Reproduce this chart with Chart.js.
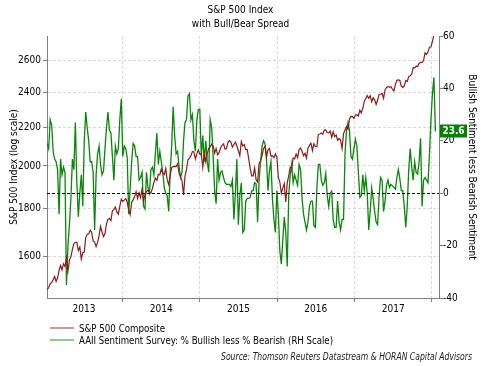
<!DOCTYPE html>
<html>
<head>
<meta charset="UTF-8">
<title>S&amp;P 500 Index with Bull/Bear Spread</title>
<script src="https://cdn.jsdelivr.net/npm/chart.js@4.4.0/dist/chart.umd.min.js"></script>
<style>
  body { margin: 0; background: #fff; }
  #grafica { display: block; }
</style>
</head>
<body>
<canvas id="grafica" width="481" height="366"></canvas>
<script>
// weekly survey dates, starting Thursday 10 Jan 2013
var firstWeek = Date.UTC(2013, 0, 10);

// S&P 500 Composite, weekly close
var spx = [
  1472, 1480, 1494, 1498, 1509, 1521, 1502, 1515, 1545, 1563,
  1546, 1569, 1559, 1593, 1541, 1585, 1597, 1627, 1650, 1655,
  1655, 1622, 1636, 1588, 1613, 1615, 1675, 1689, 1690, 1706,
  1697, 1661, 1656, 1638, 1655, 1683, 1722, 1698, 1679, 1692,
  1733, 1752, 1757, 1747, 1790, 1795, 1807, 1785, 1775, 1810,
  1842, 1832, 1838, 1845, 1828, 1794, 1773, 1829, 1839, 1854,
  1877, 1846, 1872, 1849, 1888, 1833, 1864, 1878, 1883, 1875,
  1870, 1892, 1920, 1940, 1930, 1959, 1957, 1985, 1965, 1958,
  1988, 1931, 1910, 1955, 1992, 1997, 1998, 1997, 2011, 1965,
  1946, 1928, 1862, 1950, 1982, 2031, 2039, 2052, 2073, 2071,
  2035, 2061, 2082, 2059, 2062, 1993, 2063, 2021, 2062, 2088,
  2097, 2111, 2101, 2065, 2089, 2056, 2067, 2091, 2105, 2113,
  2086, 2088, 2121, 2131, 2121, 2096, 2109, 2122, 2102, 2077,
  2052, 2125, 2102, 2109, 2083, 2084, 2036, 1988, 1952, 1952,
  1990, 1932, 1923, 2013, 2024, 2052, 2089, 2100, 2045, 2082,
  2089, 2050, 2052, 2041, 2061, 2044, 1944, 1922, 1869, 1893,
  1915, 1829, 1918, 1951, 1994, 1989, 2040, 2036, 2060, 2042,
  2083, 2091, 2075, 2051, 2064, 2040, 2090, 2105, 2116, 2077,
  2113, 2099, 2097, 2164, 2165, 2170, 2164, 2186, 2187, 2173,
  2171, 2181, 2147, 2177, 2151, 2160, 2132, 2141, 2133, 2088,
  2167, 2187, 2205, 2191, 2246, 2262, 2260, 2250, 2269, 2271,
  2263, 2297, 2281, 2307, 2347, 2364, 2381, 2365, 2381, 2345,
  2368, 2357, 2329, 2355, 2388, 2389, 2394, 2365, 2415, 2430,
  2434, 2432, 2434, 2419, 2409, 2448, 2473, 2475, 2472, 2438,
  2430, 2439, 2472, 2466, 2496, 2501, 2510, 2552, 2551, 2562,
  2560, 2579, 2585, 2585, 2597, 2648, 2637, 2652, 2684, 2687,
  2724, 2767, 2798
];

// AAII % bullish less % bearish
var bullBear = [
  19, 17, 28, 26, 16, 13, 12, 9, -8, 13,
  7, 10, 8, -35, -20, -12, -2, 13, 9, 27,
  4, -9, 0, 7, -5, 20, 31, 25, 20, 12,
  12, 8, -14, 7, 15, 18, 11, 7, 8.5, 17,
  25, 31, 24, 23, 14, 5, 18, 15, 17, 28,
  36, 14, 18, 17, 13.6, -8, 2, 12, 19, 18,
  14, 14, 5, 6, 8, -5, -6, 8, 2, 0,
  9, 10, 7, 15, 23, 11, 16, 12, 8, 2,
  0, -1, -7, 8, 18, 33, 22, 15, 16, 10,
  6, 8, 20, 27, 28, 37, 38, 28, 30, 20,
  16, 28, 32, 32, 14, 22, 12, 20, 12, 8,
  28, 25, 14, 1, -4, 13, 5, 8, 8.5, 6,
  4, 3.4, 3.4, 3.4, 2.5, 5, -10, 0, 13, -12,
  -1, 4, -15, -14, -3, -2, -2, -1.6, 0.9, 1,
  4, 3.5, -11, 5, 12, 18, 20, 19, 13, 1,
  8.5, 12, -2, -10, -15, 1, -8, -22, -27, -18,
  -9, -15, -28, -1, 7, 11, 4, 7, 5, 3,
  11, 9, -2, -8, -11, -14, -11, -5, -3, -3,
  -12.5, -13, 2, 11, 11, 5, 3, 4, 7.5, -1,
  -5, 0, 0.8, -10, -13, -13, -3, -11, -14, -10,
  -10, 15, 24, 27, 24, 14, 13, 17, 20.6, 18,
  8, -1.6, -1, 7, 1, 6, 0, -14, -7, 2,
  -2, -7, -11, -12, -1, 6, 5, -7, -3, 3,
  5, 2.2, 3.4, 2.8, 2.2, 1.5, 6, 9, 5.5, 1,
  1, -5, -13, -5, 9, 17, 10, 5, 12, 8,
  7.3, 12, 21, -5, 5, 6, 5, 4, 15, 28,
  38, 44.2, 23.6
];

var years = [2013, 2014, 2015, 2016, 2017];
var spxTicks = [1600, 1800, 2000, 2200, 2400, 2600];
var spreadTicks = [-40, -20, 0, 20, 40, 60];

var FONT = "'DejaVu Sans Condensed', 'Liberation Sans', sans-serif";
var RED = '#8c1c1c';
var GREEN = '#0a860a';
var DAY = 86400000;

function weekX(i) { return firstWeek + i * 7 * DAY; }

var spxPts = spx.map(function (v, i) { return { x: weekX(i), y: v }; });
var spreadPts = bullBear.map(function (v, i) { return { x: weekX(i), y: v }; });

// x ticks: year boundaries (grid + tick mark) and mid years (label)
function yearTicks() {
  var t = [];
  years.forEach(function (y) {
    var a = Date.UTC(y, 0, 1), b = Date.UTC(y + 1, 0, 1);
    t.push({ value: (a + b) / 2, year: y });
    t.push({ value: b, boundary: true });
  });
  return t;
}

var extras = {
  id: 'extras',
  afterDatasetsDraw: function (chart) {
    var ctx = chart.ctx, a = chart.chartArea;
    var y0 = chart.scales.y2.getPixelForValue(0);
    ctx.save();
    ctx.strokeStyle = '#000';
    ctx.lineWidth = 1;
    ctx.setLineDash([3, 2]);
    ctx.beginPath();
    ctx.moveTo(a.left, Math.round(y0) + 0.5);
    ctx.lineTo(a.right, Math.round(y0) + 0.5);
    ctx.stroke();
    ctx.restore();
  },
  afterDraw: function (chart) {
    var ctx = chart.ctx, a = chart.chartArea;
    ctx.save();

    // last value flag on the right scale
    var last = bullBear[bullBear.length - 1];
    var yl = chart.scales.y2.getPixelForValue(last);
    ctx.fillStyle = '#088008';
    ctx.fillRect(a.right + 1, Math.round(yl) - 6.5, 27, 13);
    ctx.fillStyle = '#fff';
    ctx.font = 'bold 10px ' + FONT;
    ctx.textAlign = 'center';
    ctx.textBaseline = 'middle';
    ctx.fillText(last.toFixed(1), a.right + 14.5, Math.round(yl), 25);

    // legend
    var items = [
      { text: 'S&P 500 Composite', color: RED, y: 328, w: 86 },
      { text: 'AAII Sentiment Survey: % Bullish less % Bearish (RH Scale)', color: GREEN, y: 340, w: 254 }
    ];
    ctx.font = '10px ' + FONT;
    ctx.textAlign = 'left';
    items.forEach(function (it) {
      ctx.strokeStyle = it.color;
      ctx.globalAlpha = 0.6;
      ctx.lineWidth = 1.5;
      ctx.beginPath();
      ctx.moveTo(50, it.y);
      ctx.lineTo(74, it.y);
      ctx.stroke();
      ctx.globalAlpha = 1;
      ctx.fillStyle = '#000';
      ctx.fillText(it.text, 79, it.y + 1, it.w);
    });

    // source note
    ctx.font = 'italic 10px ' + FONT;
    ctx.textAlign = 'right';
    ctx.fillStyle = '#222';
    ctx.fillText('Source: Thomson Reuters Datastream & HORAN Capital Advisors', 472, 357, 251);
    ctx.restore();
  }
};

var chart = new Chart(document.getElementById('grafica').getContext('2d'), {
  type: 'line',
  data: {
    datasets: [
      {
        label: 'S&P 500 Composite',
        data: spxPts,
        yAxisID: 'y',
        borderColor: RED,
        borderWidth: 1.2,
        pointRadius: 0,
        tension: 0
      },
      {
        label: 'AAII Sentiment Survey: % Bullish less % Bearish (RH Scale)',
        data: spreadPts,
        yAxisID: 'y2',
        borderColor: GREEN,
        borderWidth: 1.3,
        pointRadius: 0,
        tension: 0
      }
    ]
  },
  options: {
    responsive: false,
    animation: false,
    layout: { padding: { left: 0, right: 0, top: 0, bottom: 48 } },
    plugins: {
      legend: { display: false },
      tooltip: { enabled: false },
      title: {
        display: true,
        text: ['S&P 500 Index', 'with Bull/Bear Spread'],
        color: '#000',
        font: { family: FONT, size: 10, weight: 'normal', lineHeight: 1.45 },
        padding: { top: 3, bottom: 4 }
      }
    },
    scales: {
      x: {
        type: 'linear',
        min: Date.UTC(2013, 0, 9),
        max: Date.UTC(2018, 1, 4),
        afterBuildTicks: function (s) { s.ticks = yearTicks(); },
        afterFit: function (s) { s.height = 20; },
        ticks: {
          autoSkip: false,
          maxRotation: 0,
          padding: 1,
          color: '#000',
          font: { family: FONT, size: 10 },
          callback: function (v, i, t) { return t[i].boundary ? '' : String(t[i].year); }
        },
        grid: {
          color: function (c) { return c.tick && c.tick.boundary ? '#dadada' : 'rgba(0,0,0,0)'; },
          tickColor: function (c) { return c.tick && c.tick.boundary ? '#808080' : 'rgba(0,0,0,0)'; },
          tickLength: 4,
          lineWidth: 1
        },
        border: { color: '#808080', width: 1, dash: [3, 2] }
      },
      y: {
        type: 'logarithmic',
        position: 'left',
        min: 1442,
        max: 2760,
        afterBuildTicks: function (s) { s.ticks = spxTicks.map(function (v) { return { value: v }; }); },
        afterFit: function (s) { s.width = 47; },
        ticks: {
          padding: 2,
          color: '#000',
          font: { family: FONT, size: 10 },
          callback: function (v) { return String(v); }
        },
        grid: { color: '#dadada', tickColor: '#808080', tickLength: 4 },
        border: { color: '#808080', width: 1, dash: [3, 2] },
        title: {
          display: true,
          text: 'S&P 500 Index (log scale)',
          color: '#000',
          font: { family: FONT, size: 10 },
          padding: { top: 8, bottom: 0 }
        }
      },
      y2: {
        type: 'linear',
        position: 'right',
        min: -40,
        max: 60,
        afterBuildTicks: function (s) { s.ticks = spreadTicks.map(function (v) { return { value: v }; }); },
        afterFit: function (s) { s.width = 42; },
        ticks: {
          padding: 0,
          color: '#000',
          font: { family: FONT, size: 10 }
        },
        grid: { drawOnChartArea: false, tickColor: '#808080', tickLength: 4 },
        border: { color: '#808080', width: 1 },
        title: {
          display: true,
          text: 'Bullish Sentiment less Bearish Sentiment',
          color: '#000',
          font: { family: FONT, size: 10 },
          padding: { top: 3, bottom: 0 }
        }
      }
    }
  },
  plugins: [extras]
});
</script>
</body>
</html>
